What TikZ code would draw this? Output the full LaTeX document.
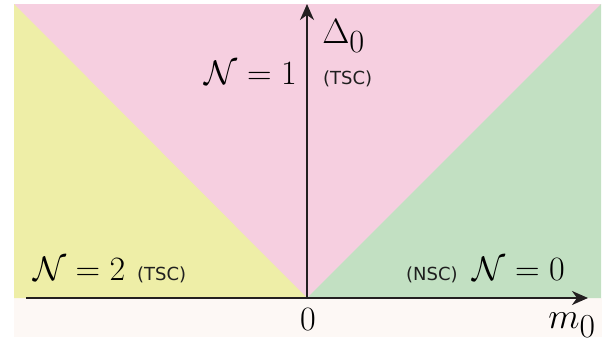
\documentclass[tikz,border=0pt]{standalone}
\usepackage{fontspec}
\newfontfamily\lblfont{DejaVu Sans}
\usetikzlibrary{arrows.meta}
\definecolor{phpink}{RGB}{246,207,224}
\definecolor{phyellow}{RGB}{238,238,167}
\definecolor{phgreen}{RGB}{194,224,194}
\definecolor{phcream}{RGB}{253,248,245}
\definecolor{phaxis}{RGB}{35,31,32}
\newcommand{\phsub}[1]{_{\mbox{\scalebox{0.92}{$#1$}}}}
\tikzset{
  phmath/.style={font=\Huge, scale=1.37, text=black, inner sep=0pt},
  phtag/.style={font=\lblfont\fontsize{18}{20}\selectfont, text=black!88, inner sep=0pt},
  phax/.style={-{Stealth[length=16pt,width=14pt,inset=5pt]}, line width=2pt, draw=phaxis},
}
\begin{document}
\begin{tikzpicture}[x=1pt, y=1pt]
    \useasboundingbox (0,0) rectangle (615,343);

    % Regiones de fase
    \fill[phcream] (14,6) rectangle (602,45);
    \fill[phpink] (14,45) rectangle (601,339);
    \fill[phyellow] (14,45) -- (14,339) -- (307,45) -- cycle;
    \fill[phgreen] (307,45) -- (601,45) -- (601,339) -- cycle;

    % Ejes
    \coordinate (o) at (307,45);
    \coordinate (xstart) at (26,45);
    \coordinate (xend) at (588,45);
    \coordinate (yend) at (307,339);
    \draw[phax] (xstart) -- (xend);
    \draw[phax] (o) -- (yend);

    % Etiquetas de ejes (escala relativa a phmath)
    \node[phmath, scale=1.03, anchor=base west] (delta) at (322,299) {$\Delta\phsub{0}$};
    \node[phmath, scale=1.07, anchor=base west] (mlbl) at (548,15) {$m\phsub{0}$};
    \node[phmath, anchor=base] (zero) at (308,13) {$0$};

    % Fases
    \node[phmath, anchor=base east] (n1) at (297,258) {$\mathcal{N}=1$};
    \node[phtag, anchor=base west] (tsc1) at (323,258) {(TSC)};
    \node[phmath, anchor=base west] (n2) at (33,63) {$\mathcal{N}=2$};
    \node[phtag, anchor=base west] (tsc2) at (137,63) {(TSC)};
    \node[phtag, anchor=base west] (nsc) at (406,63) {(NSC)};
    \node[phmath, anchor=base east] (n0) at (565,63) {$\mathcal{N}=0$};
\end{tikzpicture}
\end{document}
